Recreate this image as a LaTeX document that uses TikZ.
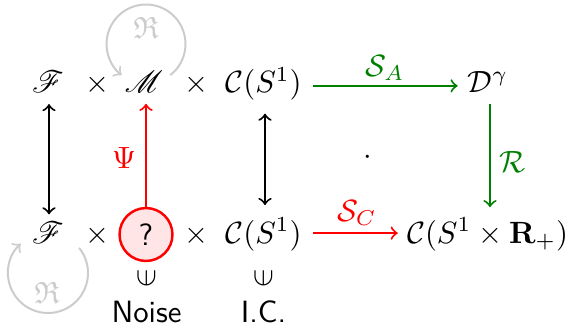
\documentclass[tikz,border=0pt]{standalone}
\usepackage{amsmath,amssymb,mathrsfs}
\begin{document}
\begin{tikzpicture}[x=0.325pt,y=0.325pt,
  every node/.style={inner sep=0pt,outer sep=0pt},
  obj/.style={anchor=base},
  arr/.style={->,line width=0.65pt},
  darr/.style={<->,line width=0.65pt},
  grn/.style={green!50!black},
  loopc/.style={black!20,line width=0.65pt},
  noisec/.style={circle,draw=red,fill=red!10,line width=0.8pt,minimum size=17.2pt}]
\useasboundingbox (0,0) rectangle (566,325);
% top row
\node[obj] (ft) at (48,232) {$\mathscr{F}$};
\node[obj] (x1t) at (97,232) {$\times$};
\node[obj] (mt) at (144,232) {$\mathscr{M}$};
\node[obj] (x2t) at (196,232) {$\times$};
\node[obj] (ct) at (263.5,232) {$\mathcal{C}(S^1)$};
\node[obj] (d) at (488,232) {$\mathcal{D}^\gamma$};
% bottom row
\node[obj] (fb) at (48,82) {$\mathscr{F}$};
\node[obj] (x1b) at (97.5,82) {$\times$};
\node[noisec] (nz) at (146,90.5) {\sffamily ?};
\node[obj] (x2b) at (196,82) {$\times$};
\node[obj] (cb) at (263.5,82) {$\mathcal{C}(S^1)$};
\node[obj] (cr) at (487.5,82) {$\mathcal{C}(S^1\times\mathbf{R}_+)$};
% memberships
\node (in1) at (146.5,47) {\rotatebox{90}{$\in$}};
\node (in2) at (263.5,47) {\rotatebox{90}{$\in$}};
\node (noise) at (146.5,13) {\sffamily Noise};
\node (ic) at (263.5,13) {\sffamily I.C.};
% vertical arrows
\draw[darr,shorten <=3.6pt,shorten >=2.3pt] ([xshift=0.325pt]ft.south) -- ([xshift=0.325pt]fb.north);
\draw[arr,red,shorten >=3.5pt] (nz.north) -- (nz.north |- mt.south);
\draw[darr,shorten <=4.2pt,shorten >=4.2pt] ([xshift=0.4875pt]ct.south) -- ([xshift=0.4875pt]cb.north);
\draw[arr,grn,shorten <=3.5pt,shorten >=3.5pt] ([xshift=0.65pt]d.south) -- ([xshift=0.65pt]d.south |- cr.north);
% horizontal arrows
\draw[arr,grn,shorten <=3.8pt,shorten >=3.3pt] ([yshift=-0.5pt]ct.east) -- ([yshift=-0.5pt]ct.east -| d.west);
\draw[arr,red,shorten <=3.8pt,shorten >=3pt] ([yshift=0.4pt]cb.east) -- ([yshift=0.4pt]cb.east -| cr.west);
% labels
\node[grn] (lsa) at (385,257) {$\mathcal{S}_A$};
\node[grn] (lr) at (513,163) {$\mathcal{R}$};
\node[red] (lsc) at (357,112) {$\mathcal{S}_C$};
\node[red] (lpsi) at (124,167) {$\Psi$};
\node (dot) at (368,167) {$\cdot$};
% loops
\coordinate (c1) at (146,281);
\draw[loopc,->] (c1) ++(-52:39.5) arc[start angle=-52,end angle=232,radius=39.5];
\node[black!20] (r1) at (146,297) {$\mathfrak{R}$};
\coordinate (c2) at (48,52);
\draw[loopc,->] (c2) ++(39:40) arc[start angle=39,end angle=-227,radius=40];
\node[black!20] (r2) at (47,32) {$\mathfrak{R}$};
\end{tikzpicture}
\end{document}
